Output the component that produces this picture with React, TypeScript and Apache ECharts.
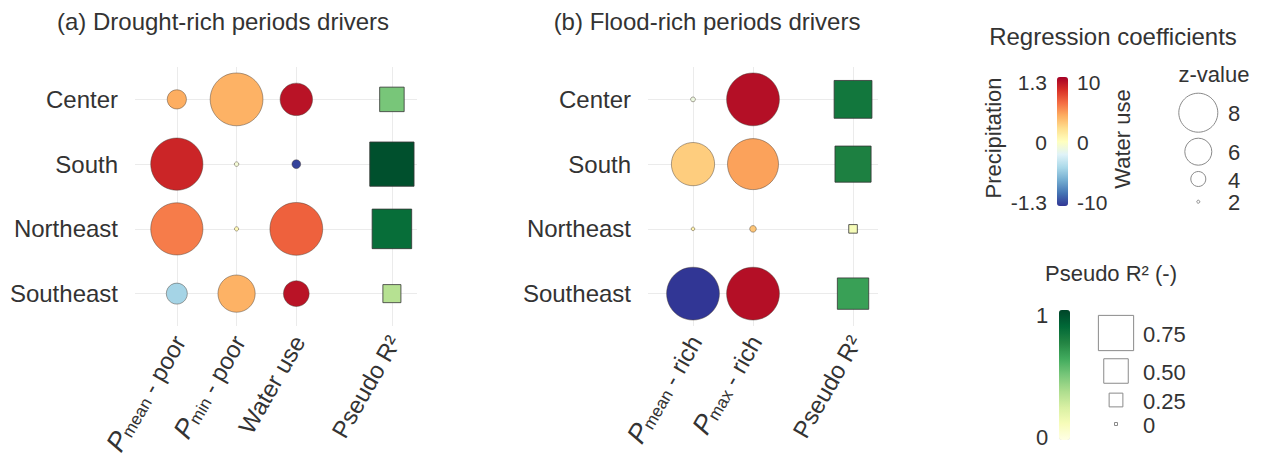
import React, { useEffect, useRef } from "react";
import * as echarts from "echarts";

// ---------------- data ----------------
const regions = ["Center", "South", "Northeast", "Southeast"];

// (a) Drought-rich periods drivers
const aPmeanPoorCoef = [0.52, 1.1, 0.72, -0.55];
const aPmeanPoorZ = [4.7, 10.2, 10.2, 5.0];
const aPminPoorCoef = [0.5, -0.1, 0.05, 0.5];
const aPminPoorZ = [10.3, 2.25, 2.2, 7.7];
const aWaterUseCoef = [9.2, -9.6, 6.4, 9.2];
const aWaterUseZ = [6.9, 2.95, 10.3, 5.8];
const aPseudoR2 = [0.5, 0.96, 0.85, 0.35];

// (b) Flood-rich periods drivers
const bPmeanRichCoef = [-0.15, 0.36, 0.1, -1.3];
const bPmeanRichZ = [2.3, 8.7, 2.1, 10.3];
const bPmaxRichCoef = [1.22, 0.57, 0.4, 1.22];
const bPmaxRichZ = [10.3, 10.0, 2.6, 10.3];
const bPseudoR2 = [0.81, 0.77, 0.13, 0.66];

// legends
const precipTicks = ["1.3", "0", "-1.3"];
const waterTicks = ["10", "0", "-10"];
const zLegendValues = [8, 6, 4, 2];
const r2LegendValues = [0.75, 0.5, 0.25, 0];
const r2LegendLabels = ["0.75", "0.50", "0.25", "0"];
const r2BarTicks = ["1", "0"];

const PRECIP_MAX = 1.3;
const WATER_MAX = 10;

// ---------------- styles / layout ----------------
const FONT = '"Liberation Sans", Arial, Helvetica, sans-serif';
const TXT = "#333333";
const GRIDLINE = "#ebebeb";
const RdYlBu = [
  "#313695", "#4575b4", "#74add1", "#abd9e9", "#e0f3f8", "#ffffbf",
  "#fee090", "#fdae61", "#f46d43", "#d73027", "#a50026",
];
const YlGn = [
  "#ffffe5", "#f7fcb9", "#d9f0a3", "#addd8e", "#78c679",
  "#41ab5d", "#238443", "#006837", "#004529",
];

const posA = { pmean: 1, pmin: 2, water: 3, r2: 4.6 };
const posB = { pmean: 1, pmax: 2, r2: 3.667 };

const zToDiameter = (z: number) => Math.max(6 * z - 9, 2.5);
const r2ToSide = (r: number) => 3 + 43 * r;

const labelA: Record<string, string> = {
  "1": "{i|P}{s|mean}{n| - poor}",
  "2": "{i|P}{s|min}{n| - poor}",
  "3": "{n|Water use}",
  "4.6": "{n|Pseudo R²}",
};
const labelB: Record<string, string> = {
  "1": "{i|P}{s|mean}{n| - rich}",
  "2": "{i|P}{s|max}{n| - rich}",
  "3.667": "{n|Pseudo R²}",
};

const richX = {
  n: { fontSize: 24, color: TXT, fontFamily: FONT, lineHeight: 30, verticalAlign: "bottom" },
  i: { fontSize: 27, color: TXT, fontFamily: FONT, fontStyle: "italic", lineHeight: 30, verticalAlign: "bottom" },
  s: { fontSize: 17, color: TXT, fontFamily: FONT, lineHeight: 26, verticalAlign: "bottom" },
};

function findLabel(map: Record<string, string>, v: number) {
  for (const k of Object.keys(map)) {
    if (Math.abs(parseFloat(k) - v) < 1e-3) return map[k];
  }
  return "";
}

function gridLines(xi: number, xs: number[]) {
  return {
    type: "scatter",
    xAxisIndex: xi,
    yAxisIndex: xi,
    data: [],
    silent: true,
    z: 0,
    markLine: {
      silent: true,
      z: 0,
      symbol: ["none", "none"],
      label: { show: false },
      animation: false,
      lineStyle: { color: GRIDLINE, width: 1, type: "solid" },
      emphasis: { disabled: true },
      data: [
        ...xs.map((v) => ({ xAxis: v })),
        ...regions.map((r) => ({ yAxis: r })),
      ],
    },
  };
}

function bubbles(xi: number, pos: number, coefs: number[], zs: number[], max: number) {
  return {
    type: "scatter",
    xAxisIndex: xi,
    yAxisIndex: xi,
    z: 6,
    data: regions.map((r, i) => [pos, r, zs[i], coefs[i] / max]),
    symbol: "circle",
    symbolSize: (v: number[]) => zToDiameter(v[2]),
    itemStyle: { borderColor: "rgba(70,60,50,0.65)", borderWidth: 0.7, opacity: 1 },
  };
}

function squares(xi: number, pos: number, vals: number[]) {
  return {
    type: "scatter",
    xAxisIndex: xi,
    yAxisIndex: xi,
    z: 6,
    data: regions.map((r, i) => [pos, r, vals[i]]),
    symbol: "rect",
    symbolSize: (v: number[]) => r2ToSide(v[2]),
    itemStyle: { borderColor: "#333", borderWidth: 0.8, opacity: 1 },
  };
}

function textEl(text: string, x: number, y: number, size: number, align = "center", extra: any = {}) {
  return {
    type: "text",
    x,
    y,
    silent: true,
    ...extra,
    style: {
      text,
      fontSize: size,
      fontFamily: FONT,
      fill: TXT,
      textAlign: align,
      align,
      textVerticalAlign: "middle",
      verticalAlign: "middle",
      ...(extra.style || {}),
    },
  };
}

export default function App() {
  const ref = useRef<HTMLDivElement>(null);

  useEffect(() => {
    if (!ref.current) return;
    const chart = echarts.init(ref.current, undefined, { renderer: "svg" });

    const yAxisBase = {
      type: "category",
      data: regions,
      inverse: true,
      boundaryGap: true,
      axisLine: { show: false },
      axisTick: { show: false },
      splitLine: { show: false },
      axisLabel: { interval: 0, fontSize: 24, color: TXT, fontFamily: FONT, margin: 17 },
    };

    const xAxisBase = (min: number, max: number, custom: number[], map: Record<string, string>) => ({
      type: "value",
      min,
      max,
      axisLine: { show: false },
      axisTick: { show: false, customValues: custom },
      splitLine: { show: false },
      axisLabel: {
        customValues: custom,
        rotate: 60,
        margin: 10,
        formatter: (v: number) => findLabel(map, v),
        rich: richX,
      },
    });

    const series: any[] = [
      gridLines(0, Object.values(posA)),
      gridLines(1, Object.values(posB)),
      bubbles(0, posA.pmean, aPmeanPoorCoef, aPmeanPoorZ, PRECIP_MAX),
      bubbles(0, posA.pmin, aPminPoorCoef, aPminPoorZ, PRECIP_MAX),
      bubbles(0, posA.water, aWaterUseCoef, aWaterUseZ, WATER_MAX),
      bubbles(1, posB.pmean, bPmeanRichCoef, bPmeanRichZ, PRECIP_MAX),
      bubbles(1, posB.pmax, bPmaxRichCoef, bPmaxRichZ, PRECIP_MAX),
      squares(0, posA.r2, aPseudoR2),
      squares(1, posB.r2, bPseudoR2),
    ];

    // ---- legend graphics ----
    const zLegendY = [112.7, 151.7, 179, 201.7];
    const r2LegendY = [333, 371, 400, 424];
    const graphic: any[] = [
      textEl("(a) Drought-rich periods drivers", 223, 21, 24),
      textEl("(b) Flood-rich periods drivers", 707, 21, 24),
      textEl("Regression coefficients", 1113, 36, 24),
      // coefficient bar labels
      ...precipTicks.map((t, i) => textEl(t, 1047, [82, 142, 202][i], 21, "right")),
      ...waterTicks.map((t, i) => textEl(t, 1077, [82, 142, 202][i], 21, "left")),
      textEl("Precipitation", 993, 138, 22, "center", { rotation: Math.PI / 2 }),
      textEl("Water use", 1122, 139, 22, "center", { rotation: Math.PI / 2 }),
      // z-value legend
      textEl("z-value", 1214, 74, 22),
      ...zLegendValues.map((z, i) => ({
        type: "circle",
        silent: true,
        shape: { cx: 1198.3, cy: zLegendY[i], r: zToDiameter(z) / 2 },
        style: { fill: "none", stroke: "#8a8a8a", lineWidth: 1 },
      })),
      ...zLegendValues.map((z, i) => textEl(String(z), 1228, zLegendY[i] + 1, 22, "left")),
      // Pseudo R2 legend
      textEl("Pseudo R² (-)", 1111, 273, 22, "center"),
      ...r2BarTicks.map((t, i) => textEl(t, 1042, [315, 437][i], 22, "center")),
      ...r2LegendValues.map((r, i) => {
        const s = r2ToSide(r);
        return {
          type: "rect",
          silent: true,
          shape: { x: 1116 - s / 2, y: r2LegendY[i] - s / 2, width: s, height: s },
          style: { fill: "none", stroke: "#8a8a8a", lineWidth: 1 },
        };
      }),
      ...r2LegendLabels.map((t, i) => textEl(t, 1143, r2LegendY[i] + 1, 22, "left")),
    ];

    chart.setOption({
      animation: false,
      backgroundColor: "#ffffff",
      textStyle: { fontFamily: FONT },
      grid: [
        { left: 135, top: 67, width: 282, height: 259, containLabel: false },
        { left: 648, top: 67, width: 230, height: 259, containLabel: false },
      ],
      xAxis: [
        { ...xAxisBase(0.3, 5.02, Object.values(posA), labelA), gridIndex: 0 },
        { ...xAxisBase(0.25, 4.083, Object.values(posB), labelB), gridIndex: 1 },
      ],
      yAxis: [
        { ...yAxisBase, gridIndex: 0 },
        { ...yAxisBase, gridIndex: 1 },
      ],
      visualMap: [
        {
          type: "continuous",
          min: -1,
          max: 1,
          dimension: 3,
          seriesIndex: [2, 3, 4, 5, 6],
          inRange: { color: RdYlBu },
          left: 1057,
          top: 77,
          itemWidth: 11,
          itemHeight: 129,
          padding: 0,
          calculable: false,
          hoverLink: false,
          text: null,
          orient: "vertical",
        },
        {
          type: "continuous",
          min: 0,
          max: 1,
          dimension: 2,
          seriesIndex: [7, 8],
          inRange: { color: YlGn },
          left: 1059,
          top: 310,
          itemWidth: 11,
          itemHeight: 130,
          padding: 0,
          calculable: false,
          hoverLink: false,
          text: null,
          orient: "vertical",
        },
      ],
      series,
      graphic,
    });

    return () => chart.dispose();
  }, []);

  return (
    <div
      ref={ref}
      style={{ position: "fixed", left: 0, top: 0, width: 1263, height: 459, background: "#fff" }}
    />
  );
}
